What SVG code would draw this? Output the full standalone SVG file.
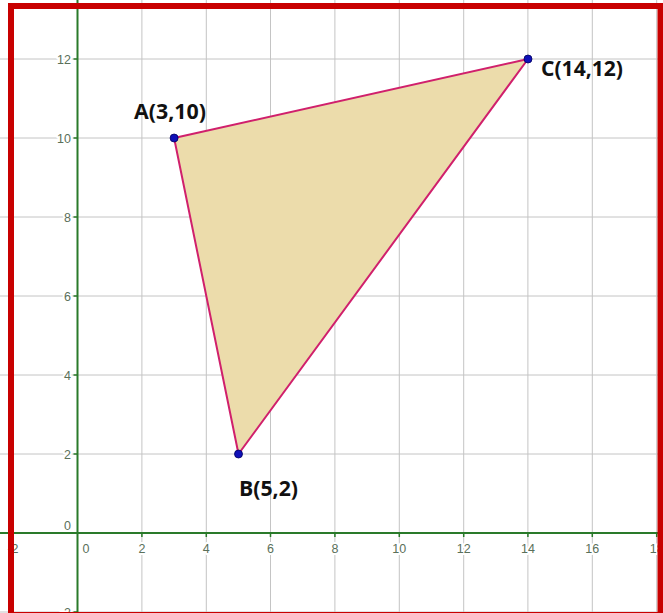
<svg xmlns="http://www.w3.org/2000/svg" width="663" height="613" viewBox="0 0 663 613">
<style>
.grid{stroke:#c4c4c4;stroke-width:1;fill:none}
.axis{stroke:#2a7a2a;stroke-width:2;fill:none}
.tick{stroke:#2a7a2a;stroke-width:1.5}
.tl{font-family:"Liberation Sans",Arial,sans-serif;font-size:12.5px;fill:#5a705a;stroke:#fff;stroke-width:4;paint-order:stroke;stroke-linejoin:round}
.lbl{font-family:"Open Sans","Liberation Sans",sans-serif;font-weight:bold;font-size:21px;fill:#111}
.pt{fill:#1010b8;stroke:#000060;stroke-width:0.8}
</style>
<rect x="0" y="0" width="663" height="613" fill="#fff"/>
<g id="grid">
<path class="grid" d="M141.9 0V613M206.3 0V613M270.5 0V613M334.9 0V613M399.3 0V613M463.7 0V613M527.9 0V613M592.3 0V613M656.7 0V613"/>
<path class="grid" d="M0 59H663M0 138H663M0 217H663M0 296H663M0 375H663M0 454H663M0 612H663"/>
</g>
<g id="axes">
<line class="axis" x1="77.5" y1="0" x2="77.5" y2="613"/>
<line class="axis" x1="0" y1="533" x2="663" y2="533"/>
<path class="tick" d="M141.9 533v4M206.3 533v4M270.5 533v4M334.9 533v4M399.3 533v4M463.7 533v4M527.9 533v4M592.3 533v4M656.7 533v4M13 533v4"/>
<path class="tick" d="M73.5 59h4M73.5 138h4M73.5 217h4M73.5 296h4M73.5 375h4M73.5 454h4M73.5 612h4"/>
</g>
<g id="tick-labels">
<text class="tl" x="71" y="63.5" text-anchor="end">12</text>
<text class="tl" x="71" y="142.5" text-anchor="end">10</text>
<text class="tl" x="71" y="221.5" text-anchor="end">8</text>
<text class="tl" x="71" y="300.5" text-anchor="end">6</text>
<text class="tl" x="71" y="379.5" text-anchor="end">4</text>
<text class="tl" x="71" y="458.5" text-anchor="end">2</text>
<text class="tl" x="71" y="530" text-anchor="end">0</text>
<text class="tl" x="71" y="617" text-anchor="end">-2</text>
<text class="tl" x="13" y="553" text-anchor="middle">-2</text>
<text class="tl" x="86" y="553" text-anchor="middle">0</text>
<text class="tl" x="141.9" y="553" text-anchor="middle">2</text>
<text class="tl" x="206.3" y="553" text-anchor="middle">4</text>
<text class="tl" x="270.5" y="553" text-anchor="middle">6</text>
<text class="tl" x="334.9" y="553" text-anchor="middle">8</text>
<text class="tl" x="399.3" y="553" text-anchor="middle">10</text>
<text class="tl" x="463.7" y="553" text-anchor="middle">12</text>
<text class="tl" x="527.9" y="553" text-anchor="middle">14</text>
<text class="tl" x="592.3" y="553" text-anchor="middle">16</text>
<text class="tl" x="656.7" y="553" text-anchor="middle">18</text>
</g>
<g id="triangle">
<polygon points="174.1,138 238.5,454 528,59" fill="#ecdcab" stroke="#d0206c" stroke-width="2" stroke-linejoin="round"/>
</g>
<g id="A">
<circle class="pt" cx="174.1" cy="138" r="4"/>
<text class="lbl" x="134" y="119" textLength="72" lengthAdjust="spacingAndGlyphs">A(3,10)</text>
</g>
<g id="B">
<circle class="pt" cx="238.5" cy="454" r="4"/>
<text class="lbl" x="239" y="496" textLength="59" lengthAdjust="spacingAndGlyphs">B(5,2)</text>
</g>
<g id="C">
<circle class="pt" cx="528" cy="59" r="4"/>
<text class="lbl" x="541" y="76" textLength="82" lengthAdjust="spacingAndGlyphs">C(14,12)</text>
</g>
<rect x="11" y="6" width="649.5" height="609" fill="none" stroke="#c80000" stroke-width="6"/>
</svg>
